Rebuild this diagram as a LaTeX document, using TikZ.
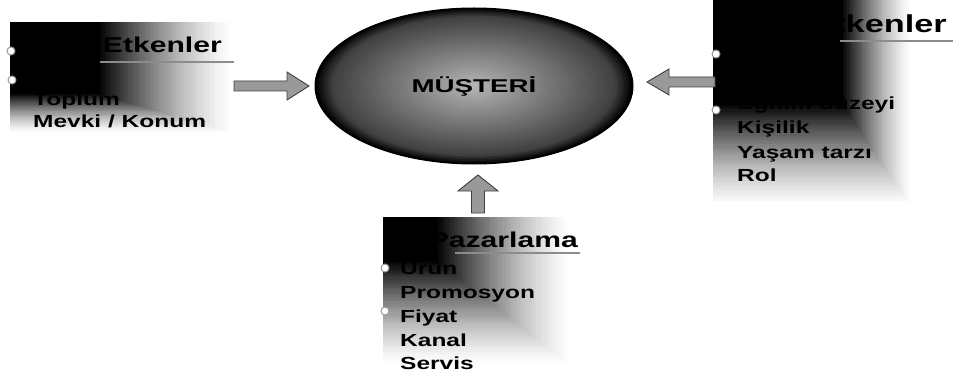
\documentclass[tikz,border=0pt]{standalone}
\usepackage{fontspec}
\newfontfamily\wfont[FakeStretch=1.4]{Liberation Sans}
\newfontfamily\efont[FakeStretch=1.5]{Liberation Sans}
\usetikzlibrary{shapes.geometric}
% corner fade: #1,#2 top-left corner; #3,#4 size of panel;
% #5 black x-extent; #6 white x-extent; #7 black y-extent; #8 white y-extent
\newcommand\panelfade[8]{%
  \begin{scope}
    \clip (#1,#2) rectangle ++(#3,#4);
    \foreach \i in {0,...,48}{
      \pgfmathsetmacro\fadet{1-\i/48}
      \pgfmathsetmacro\fadep{max(0,min(100,round(100*(1-\fadet)^1.4)))}
      \pgfmathsetmacro\fadex{#5+(#6-#5)*\fadet}
      \pgfmathsetmacro\fadey{#7+(#8-#7)*\fadet}
      \fill[black!\fadep] (#1,#2) rectangle ++(\fadex,\fadey);
    }
  \end{scope}}
\tikzset{
  itm/.style={anchor=base west, inner sep=0pt, font=\wfont\bfseries\fontsize{17.5}{20}\selectfont, text=black},
  ttl/.style={anchor=base east, inner sep=0pt, font=\wfont\bfseries\fontsize{21.5}{24}\selectfont, text=black},
  hrule/.style={draw=black!45, line width=1.6pt},
  bulletdot/.style={circle, draw=black!40, fill=white, minimum size=8pt, inner sep=0pt, line width=1pt},
  barrow/.style={fill=black!40, draw=black!75, line width=0.9pt, line join=miter},
}
\begin{document}
\begin{tikzpicture}[x=1pt, y=-1pt]
\useasboundingbox (0,0) rectangle (953,385);

% central ellipse (graded by rings)
\coordinate (cc) at (474,86);
\foreach \i in {0,...,50}{
  \pgfmathsetmacro\ells{1-\i/50*0.97}
  \pgfmathsetmacro\ellp{max(0,min(100,round(\ells>0.9 ? 75+250*(\ells-0.9) : 28+52*\ells)))}
  \pgfmathsetmacro\ellrx{159*\ells}
  \pgfmathsetmacro\ellry{78*\ells}
  \fill[black!\ellp] (cc) ellipse[x radius=\ellrx pt, y radius=\ellry pt];
}
\node[ellipse, draw=black, line width=1pt,
      minimum width=318pt, minimum height=156pt, inner sep=0pt,
      font=\efont\bfseries\fontsize{18.5}{20}\selectfont] (cust) at (cc) {MÜŞTERİ};

% left panel
\panelfade{10}{22}{235}{116}{90}{225}{72}{112}
\draw[hrule] (100,62) -- (234,62);
\node[ttl] (lt) at (222,53) {Dış Etkenler};
\node[itm] (l1) at (33,84) {Aile};
\node[itm] (l2) at (33,106) {Toplum};
\node[itm] (l3) at (33,128) {Mevki / Konum};
\node[bulletdot] (ld1) at (11,51) {};
\node[bulletdot] (ld2) at (12,80) {};

% right panel
\panelfade{713}{0}{240}{200}{130}{200}{105}{210}
\draw[hrule] (840,41) -- (953,41);
\node[ttl, font=\wfont\bfseries\fontsize{24.5}{28}\selectfont] (rt) at (947,33) {İç Etkenler};
\node[itm] (r1) at (737,62) {Yaş};
\node[itm] (r2) at (737,86) {Meslek};
\node[itm] (r3) at (737,110) {Eğitim düzeyi};
\node[itm] (r4) at (737,134) {Kişilik};
\node[itm] (r5) at (737,158) {Yaşam tarzı};
\node[itm] (r6) at (737,182) {Rol};
\node[bulletdot] (rd1) at (716,54) {};
\node[bulletdot] (rd2) at (716,110) {};

% bottom panel
\panelfade{383}{217}{229}{168}{55}{190}{45}{150}
\draw[hrule] (455,253) -- (580,253);
\node[ttl] (bt) at (578,247) {Pazarlama};
\node[itm] (b1) at (400,274) {Ürün};
\node[itm] (b2) at (400,298) {Promosyon};
\node[itm] (b3) at (400,322) {Fiyat};
\node[itm] (b4) at (400,346) {Kanal};
\node[itm] (b5) at (400,369) {Servis};
\node[bulletdot] (bd1) at (385,268) {};
\node[bulletdot] (bd2) at (385,311) {};

% block arrows
\coordinate (la) at (234,86);
\coordinate (ra) at (715,82);
\coordinate (ua) at (478,213);
\draw[barrow] (la) ++(0,-5) -- ++(53,0) -- ++(0,-9) -- ++(22,14) -- ++(-22,14) -- ++(0,-9) -- ++(-53,0) -- cycle;
\draw[barrow] (ra) ++(0,-5) -- ++(-46,0) -- ++(0,-8) -- ++(-22,13) -- ++(22,13) -- ++(0,-8) -- ++(46,0) -- cycle;
\draw[barrow] (ua) ++(-6.5,0) -- ++(0,-22) -- ++(-13.5,0) -- ++(20,-16) -- ++(20,16) -- ++(-13.5,0) -- ++(0,22) -- cycle;
\end{tikzpicture}
\end{document}
